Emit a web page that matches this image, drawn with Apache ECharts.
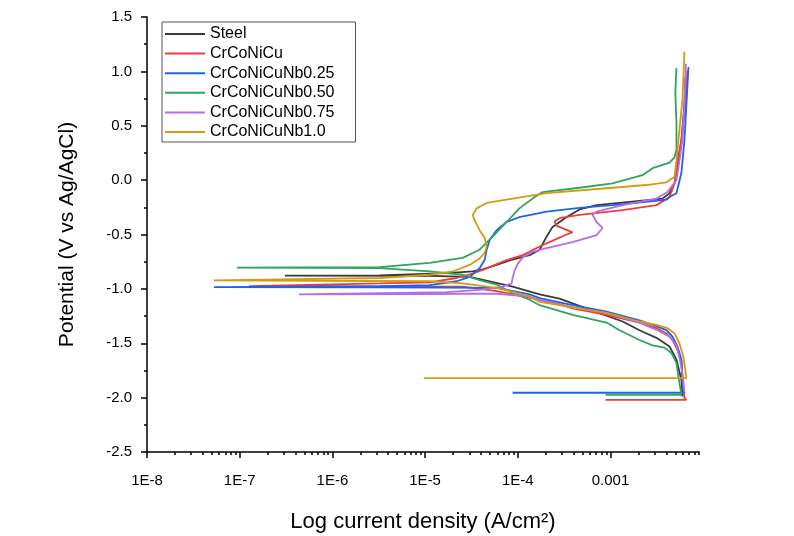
<!DOCTYPE html>
<html>
<head>
<meta charset="utf-8">
<script src="https://cdn.jsdelivr.net/npm/echarts@6/dist/echarts.min.js"></script>
<style>
html, body { margin: 0; padding: 0; background: #fff; }
#chart { width: 794px; height: 536px; }
</style>
</head>
<body>
<div id="chart"></div>
<script>
// Tafel polarisation curves, [current density (A/cm2), potential (V vs Ag/AgCl)]
const seriesNames = ['Steel', 'CrCoNiCu', 'CrCoNiCuNb0.25', 'CrCoNiCuNb0.50', 'CrCoNiCuNb0.75', 'CrCoNiCuNb1.0'];
const colors = ['#3a3a3a', '#f23b3b', '#1e64e6', '#2ea45c', '#b36ee8', '#d49a12'];

const steel = [
  [5.97e-3, -1.99], [5.82e-3, -1.84], [5.14e-3, -1.65], [4.33e-3, -1.53], [3.13e-3, -1.45],
  [2.05e-3, -1.38], [1.35e-3, -1.30], [5.94e-4, -1.19], [2.82e-4, -1.09], [1.72e-4, -1.05],
  [8.79e-5, -0.98], [3.03e-5, -0.89], [1.12e-5, -0.88], [3.07e-7, -0.879], [3.24e-6, -0.875],
  [1.71e-5, -0.855], [3.26e-5, -0.84], [4.18e-5, -0.82], [5.92e-5, -0.78], [8.79e-5, -0.73],
  [1.34e-4, -0.69], [1.72e-4, -0.64], [2.04e-4, -0.52], [2.37e-4, -0.43], [3.36e-4, -0.34],
  [4.63e-4, -0.27], [7.06e-4, -0.23], [1.6e-3, -0.20], [3.63e-3, -0.17], [4.33e-3, -0.12],
  [4.9e-3, -0.03], [5.27e-3, 0.12], [5.82e-3, 0.37], [6.27e-3, 0.7], [6.43e-3, 0.95]
];
const crconicu = [
  [8.83e-4, -2.02], [6.59e-3, -2.02], [6.27e-3, -2.0], [5.97e-3, -1.84], [5.82e-3, -1.68],
  [5.27e-3, -1.56], [4.66e-3, -1.47], [4.01e-3, -1.41], [3.13e-3, -1.36], [2.05e-3, -1.31],
  [9.06e-4, -1.24], [3.9e-4, -1.18], [2.82e-4, -1.14], [1.34e-4, -1.08], [5.92e-5, -1.02],
  [2.54e-5, -0.98], [1.26e-7, -0.974], [3.24e-6, -0.95], [1.12e-5, -0.94], [2.19e-5, -0.90],
  [3.26e-5, -0.86], [4.97e-5, -0.80], [7.57e-5, -0.735], [1.13e-4, -0.69], [1.72e-4, -0.61],
  [2.62e-4, -0.54], [3.36e-4, -0.50], [3.9e-4, -0.48], [2.62e-4, -0.42], [2.49e-4, -0.38],
  [2.82e-4, -0.35], [4.63e-4, -0.32], [1.35e-3, -0.275], [3.13e-3, -0.23], [4.33e-3, -0.155],
  [4.9e-3, -0.03], [5.27e-3, 0.18], [5.82e-3, 0.37], [6.43e-3, 0.7], [6.76e-3, 1.01]
];
const nb025 = [
  [8.79e-5, -1.955], [6.27e-3, -1.955], [6.12e-3, -1.93], [5.97e-3, -1.81], [5.82e-3, -1.65],
  [5.27e-3, -1.53], [4.66e-3, -1.44], [4.01e-3, -1.38], [2.84e-3, -1.33], [2.05e-3, -1.29],
  [9.06e-4, -1.21], [3.9e-4, -1.15], [1.72e-4, -1.085], [1.34e-4, -1.05], [5.92e-5, -0.99],
  [3.24e-6, -0.985], [5.27e-8, -0.983], [3.24e-6, -0.975], [1.12e-5, -0.965], [2.19e-5, -0.93],
  [3.03e-5, -0.89], [3.87e-5, -0.81], [4.38e-5, -0.735], [4.61e-5, -0.64], [4.97e-5, -0.55],
  [5.92e-5, -0.46], [7.57e-5, -0.385], [1.04e-4, -0.34], [2.04e-4, -0.29], [4.63e-4, -0.255],
  [1.05e-3, -0.23], [2.44e-3, -0.20], [4.01e-3, -0.18], [4.33e-3, -0.155], [5.14e-3, -0.12],
  [5.82e-3, 0.07], [6.27e-3, 0.37], [6.59e-3, 0.7], [6.93e-3, 1.04]
];
const nb050 = [
  [8.83e-4, -1.975], [5.82e-3, -1.975], [5.82e-3, -1.96], [5.4e-3, -1.81], [5.14e-3, -1.68],
  [4.54e-3, -1.59], [3.82e-3, -1.54], [2.84e-3, -1.52], [2.05e-3, -1.47], [1.25e-3, -1.38],
  [9.06e-4, -1.31], [3.9e-4, -1.24], [1.72e-4, -1.15], [1.34e-4, -1.10], [8.79e-5, -1.04],
  [5.92e-5, -0.96], [3.87e-5, -0.92], [2.54e-5, -0.87], [1.12e-5, -0.84], [3.24e-6, -0.81],
  [9.3e-8, -0.805], [3.24e-6, -0.80], [1.12e-5, -0.76], [2.54e-5, -0.715], [3.87e-5, -0.64],
  [5.35e-5, -0.52], [7.57e-5, -0.385], [1.04e-4, -0.26], [1.44e-4, -0.17], [1.85e-4, -0.11],
  [4.63e-4, -0.07], [1.05e-3, -0.03], [2.21e-3, 0.045], [2.84e-3, 0.11], [4.33e-3, 0.16],
  [4.9e-3, 0.21], [5.14e-3, 0.28], [5.14e-3, 0.53], [5.0e-3, 0.8], [5.14e-3, 1.03]
];
const nb075 = [
  [6.27e-3, -1.95], [5.97e-3, -1.78], [5.54e-3, -1.63], [5.14e-3, -1.52], [4.33e-3, -1.44],
  [3.37e-3, -1.39], [2.05e-3, -1.31], [9.06e-4, -1.22], [3.9e-4, -1.17], [1.72e-4, -1.10],
  [1.34e-4, -1.07], [5.92e-5, -1.045], [2.54e-5, -1.045], [1.12e-5, -1.048], [4.35e-7, -1.05],
  [3.24e-6, -1.04], [1.71e-5, -1.03], [3.87e-5, -1.01], [6.85e-5, -0.98], [8.57e-5, -0.95],
  [8.79e-5, -0.90], [9.25e-5, -0.83], [9.96e-5, -0.77], [1.13e-4, -0.71], [1.44e-4, -0.66],
  [2.04e-4, -0.625], [3.9e-4, -0.57], [7.06e-4, -0.505], [8.2e-4, -0.44], [7.06e-4, -0.385],
  [6.4e-4, -0.32], [7.06e-4, -0.29], [1.35e-3, -0.23], [3.13e-3, -0.17], [4.11e-3, -0.11],
  [5.14e-3, 0.0], [5.54e-3, 0.18], [5.97e-3, 0.37], [6.27e-3, 0.7], [6.5e-3, 1.07]
];
const nb100 = [
  [9.7e-6, -1.82], [6.59e-3, -1.82], [6.12e-3, -1.63], [5.54e-3, -1.50], [4.9e-3, -1.41],
  [4.11e-3, -1.36], [3.13e-3, -1.33], [2.05e-3, -1.30], [9.06e-4, -1.22], [3.9e-4, -1.17],
  [1.72e-4, -1.12], [1.34e-4, -1.07], [5.92e-5, -0.99], [2.54e-5, -0.95], [1.12e-5, -0.93],
  [5.27e-8, -0.921], [3.24e-6, -0.90], [1.12e-5, -0.87], [1.98e-5, -0.84], [3.03e-5, -0.78],
  [3.87e-5, -0.72], [4.38e-5, -0.67], [4.61e-5, -0.615], [4.38e-5, -0.53], [3.87e-5, -0.46],
  [3.42e-5, -0.37], [3.26e-5, -0.32], [3.6e-5, -0.26], [4.61e-5, -0.21], [8.79e-5, -0.17],
  [2.04e-4, -0.12], [1.05e-3, -0.07], [2.44e-3, -0.045], [4.01e-3, -0.02], [4.9e-3, 0.03],
  [5.14e-3, 0.18], [5.4e-3, 0.37], [5.97e-3, 0.74], [6.27e-3, 1.18]
];
const seriesData = [steel, crconicu, nb025, nb050, nb075, nb100];

// axis ticks
const xLabelValues = [1e-8, 1e-7, 1e-6, 1e-5, 1e-4, 1e-3];
const xMinorMantissas = [2, 3, 4, 5, 6, 7, 8, 8.9999];

const xMin = 1e-8, xMax = 0.009;
const minorXTicks = [];
xLabelValues.forEach(d => xMinorMantissas.forEach(m => { if (m * d <= xMax) minorXTicks.push(m * d); }));

const font = 'Liberation Sans, Arial, sans-serif';
const axisLineStyle = {color: '#000', width: 1.5};

function xLabel(v) {
    const e = Math.round(Math.log10(v));
    return e >= -3 ? Math.pow(10, e).toFixed(-e) : '1E' + e;
}

const chart = echarts.init(document.getElementById('chart'));
chart.setOption({
    animation: false,
    backgroundColor: '#fff',
    grid: {left: 147, top: 17, right: 95, bottom: 84, outerBoundsMode: 'none'},
    legend: {
        orient: 'vertical',
        left: 162,
        top: 22,
        icon: 'rect',
        itemWidth: 40,
        itemHeight: 2,
        itemGap: 3.6,
        padding: [4, 21, 2, 3],
        borderColor: '#555',
        borderWidth: 1,
        backgroundColor: '#fff',
        textStyle: {fontSize: 16, lineHeight: 16, color: '#000', fontFamily: font},
        data: seriesNames
    },
    xAxis: [{
        type: 'log',
        logBase: 10,
        min: xMin,
        max: xMax,
        position: 'bottom',
        axisLine: {show: true, onZero: false, lineStyle: axisLineStyle},
        axisTick: {show: true, customValues: xLabelValues, length: 6, lineStyle: axisLineStyle},
        axisLabel: {customValues: xLabelValues, formatter: xLabel, margin: 21, fontSize: 15, color: '#000', fontFamily: font},
        splitLine: {show: false},
        minorTick: {show: false},
        name: 'Log current density (A/cm²)',
        nameLocation: 'middle',
        nameGap: 59,
        nameTextStyle: {fontSize: 22, color: '#000', fontFamily: font}
    }, {
        type: 'log',
        logBase: 10,
        min: xMin,
        max: xMax,
        position: 'bottom',
        axisLine: {show: false, onZero: false},
        axisTick: {show: true, customValues: minorXTicks, length: 3, lineStyle: axisLineStyle},
        axisLabel: {show: false},
        splitLine: {show: false}
    }],
    yAxis: {
        type: 'value',
        min: -2.5,
        max: 1.5,
        interval: 0.5,
        axisLine: {show: true, onZero: false, lineStyle: axisLineStyle},
        axisTick: {show: true, length: 6, lineStyle: axisLineStyle},
        minorTick: {show: true, splitNumber: 2, length: 3, lineStyle: axisLineStyle},
        axisLabel: {formatter: v => v.toFixed(1), margin: 15, fontSize: 15, color: '#000', fontFamily: font},
        splitLine: {show: false},
        minorSplitLine: {show: false},
        name: 'Potential (V vs Ag/AgCl)',
        nameLocation: 'middle',
        nameGap: 69,
        nameTextStyle: {fontSize: 21, color: '#000', fontFamily: font}
    },
    series: seriesNames.map((name, i) => ({
        name: name,
        type: 'line',
        xAxisIndex: 0,
        data: seriesData[i],
        symbol: 'none',
        showSymbol: false,
        lineStyle: {width: 1.8, color: colors[i]},
        itemStyle: {color: colors[i]},
        z: 2 + i
    }))
});
</script>
</body>
</html>
